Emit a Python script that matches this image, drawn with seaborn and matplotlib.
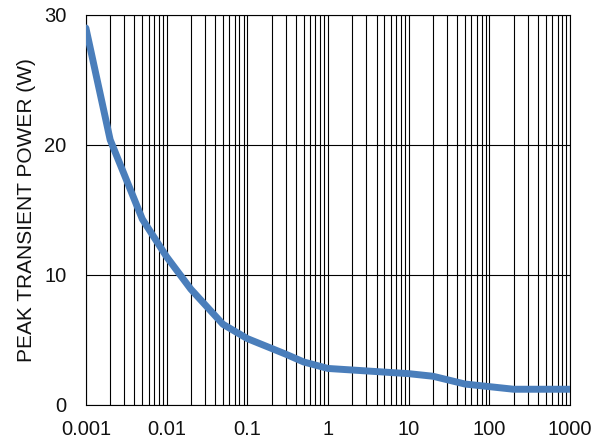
import numpy as np
import pandas as pd
import matplotlib
matplotlib.use("Agg")
import matplotlib.pyplot as plt
import seaborn as sns
from matplotlib.ticker import LogLocator, FixedLocator, FixedFormatter, NullFormatter

# pulse width (s) and peak transient power (W)
pulse_width = [0.001, 0.002, 0.005, 0.01, 0.02, 0.05, 0.1, 0.3, 0.5, 1, 10, 20, 50, 100, 200, 1000]
peak_power = [29.0, 20.4, 14.3, 11.4, 8.9, 6.2, 5.1, 3.9, 3.3, 2.8, 2.4, 2.2, 1.6, 1.4, 1.2, 1.2]

x_ticks = [0.001, 0.01, 0.1, 1, 10, 100, 1000]
x_labels = ["0.001", "0.01", "0.1", "1", "10", "100", "1000"]
y_ticks = [0, 10, 20, 30]

df = pd.DataFrame({"t": pulse_width, "p": peak_power})

sns.set_style("white")
plt.rcParams['font.family'] = ['Liberation Sans', 'DejaVu Sans']

fig = plt.figure(figsize=(6.09, 4.41), dpi=100)
ax = fig.add_axes([0.141, 0.082, 0.795, 0.884])

sns.lineplot(data=df, x="t", y="p", ax=ax, color="#4a7ebb", linewidth=5, zorder=3)

ax.set_xscale("log")
ax.set_xlim(0.001, 1000)
ax.set_ylim(0, 30)

# grid on every decade and sub-decade line
ax.xaxis.set_major_locator(FixedLocator(x_ticks))
ax.xaxis.set_major_formatter(FixedFormatter(x_labels))
ax.xaxis.set_minor_locator(LogLocator(base=10, subs=np.arange(2, 10)))
ax.xaxis.set_minor_formatter(NullFormatter())
ax.set_yticks(y_ticks)
ax.grid(True, which="both", axis="x", color="black", linewidth=0.8)
ax.grid(True, which="major", axis="y", color="black", linewidth=0.8)

ax.tick_params(which="both", length=0, labelsize=14.5, labelcolor="#111111")
ax.tick_params(axis="x", pad=11)
ax.tick_params(axis="y", pad=14)

ax.set_xlabel("")
ax.set_ylabel("PEAK TRANSIENT POWER (W)", fontsize=15, labelpad=6, color="#111111")

for s in ax.spines.values():
    s.set_color("black")
    s.set_linewidth(0.8)

fig.savefig("out.png", dpi=100)
